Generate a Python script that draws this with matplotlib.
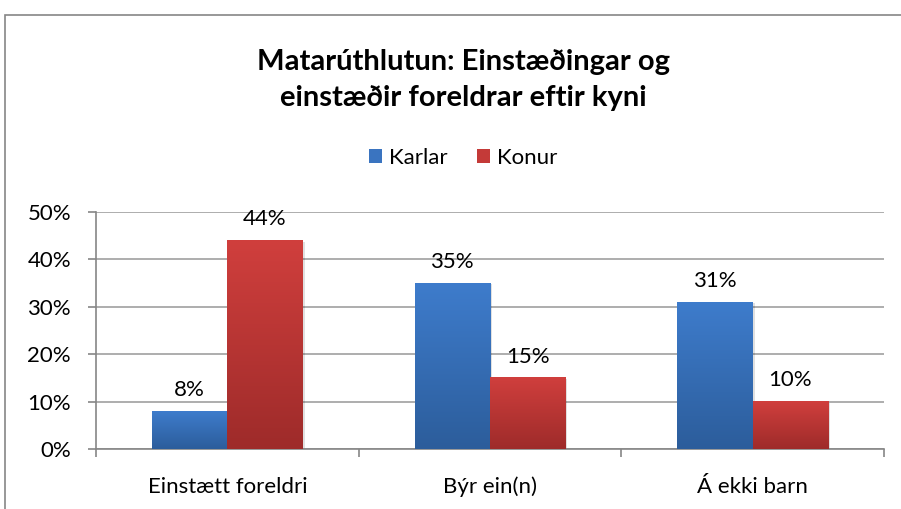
import numpy as np
import matplotlib.pyplot as plt
from matplotlib.patches import Rectangle
from matplotlib.colors import LinearSegmentedColormap

plt.rcParams['font.family'] = ['Lato', 'DejaVu Sans']

categories = ["Einstætt foreldri", "Býr ein(n)", "Á ekki barn"]
karlar = [8, 35, 31]
konur = [44, 15, 10]
series = ["Karlar", "Konur"]
yticks = [0, 10, 20, 30, 40, 50]

fs = 16
fig = plt.figure(figsize=(9.01, 5.09), dpi=100)
ax = fig.add_axes([96 / 901, 1 - 449 / 509, (884 - 96) / 901, (449 - 212) / 509])

# outer chart frame
fig.patches.append(Rectangle((5 / 901, -0.2), 1.2, 1.2 - 15 / 509,
                             transform=fig.transFigure, fill=False,
                             edgecolor='#868686', linewidth=1.2, zorder=0))

x = np.arange(len(categories))
w = 0.287
cmaps = [LinearSegmentedColormap.from_list('b', ['#2c5d9b', '#3e7ccc']),
         LinearSegmentedColormap.from_list('r', ['#9e2b2a', '#d03f3d'])]
grad = np.linspace(0, 1, 256).reshape(-1, 1)

for k, vals in enumerate([karlar, konur]):
    offs = -w / 2 if k == 0 else w / 2
    bars = ax.bar(x + offs, vals, w, color='none', edgecolor='none', zorder=3)
    for b in bars:
        x0, x1 = b.get_x(), b.get_x() + b.get_width()
        h = b.get_height()
        # subtle shadow
        ax.add_patch(Rectangle((x0 + 0.008, 0), b.get_width(), h - 0.25,
                               facecolor='#000000', alpha=0.12, zorder=2.5,
                               edgecolor='none'))
        ax.imshow(grad, cmap=cmaps[k], extent=(x0, x1, 0, h), origin='lower',
                  aspect='auto', zorder=3)
    for xi, v in zip(x + offs, vals):
        ax.annotate(f"{v}%", (xi, v), xytext=(0, 8), textcoords='offset points',
                    ha='center', va='bottom', fontsize=fs, color='#000000')

ax.set_xlim(-0.5, len(categories) - 0.5)
ax.set_ylim(0, 50)
ax.set_yticks(yticks)
ax.set_yticklabels([f"{t}%" for t in yticks], fontsize=fs)
ax.set_xticks(x)
ax.set_xticklabels(categories, fontsize=fs)
ax.set_xticks(np.arange(len(categories) + 1) - 0.5, minor=True)
ax.tick_params(axis='x', which='major', length=0, pad=20)
ax.tick_params(axis='x', which='minor', length=6, color='#868686', width=1.2)
ax.tick_params(axis='y', length=6, color='#868686', width=1.2, pad=12)
ax.grid(axis='y', color='#a0a0a0', linewidth=1.2, zorder=0)
ax.set_axisbelow(True)
for s in ['top', 'right']:
    ax.spines[s].set_visible(False)
for s in ['left', 'bottom']:
    ax.spines[s].set_color('#868686')
    ax.spines[s].set_linewidth(1.2)

fig.text(463 / 901, 1 - 80 / 509,
         "Matarúthlutun: Einstæðingar og\neinstæðir foreldrar eftir kyni",
         ha='center', va='center', fontsize=21, fontweight='bold',
         linespacing=1.5)

handles = [Rectangle((0, 0), 1, 1, facecolor='#3a74c0'),
           Rectangle((0, 0), 1, 1, facecolor='#c43a38')]
fig.legend(handles, series, loc='center', bbox_to_anchor=(463 / 901, 1 - 158 / 509),
           ncol=2, frameon=False, fontsize=fs, handlelength=0.6,
           handleheight=0.6, handletextpad=0.3, columnspacing=1.3)

fig.savefig("out.png", dpi=100)
